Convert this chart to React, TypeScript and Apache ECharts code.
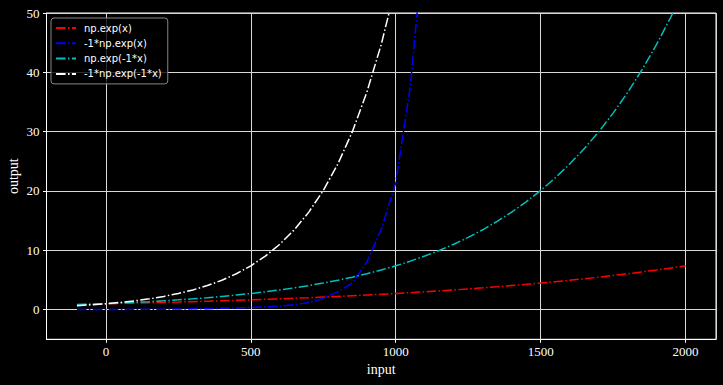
import React, { useEffect, useRef } from "react";
import * as echarts from "echarts";

const xValues = [
  -100, -50, 0, 50, 100, 150, 200, 250, 300, 350, 400, 450, 500, 550, 600, 650, 700, 750, 800, 850, 900,
  950, 1000, 1050, 1100, 1150, 1200, 1250, 1300, 1350, 1400, 1450, 1500, 1550, 1600, 1650, 1700, 1750,
  1800, 1850, 1900, 1950, 2000,
];

const redValues = [
  0.9, 0.95, 1.0, 1.05, 1.1, 1.16, 1.22, 1.28, 1.35, 1.42, 1.49, 1.57, 1.65, 1.73, 1.82, 1.92, 2.01, 2.12,
  2.23, 2.34, 2.46, 2.59, 2.72, 2.86, 3.0, 3.16, 3.32, 3.49, 3.67, 3.86, 4.06, 4.26, 4.48, 4.71, 4.95,
  5.21, 5.47, 5.76, 6.05, 6.36, 6.69, 7.03, 7.39,
];

const blueValues = [
  0.02, 0.02, 0.03, 0.04, 0.05, 0.06, 0.08, 0.1, 0.13, 0.17, 0.22, 0.28, 0.36, 0.46, 0.6, 0.85, 1.2, 1.9,
  3.0, 4.5, 8.0, 13.5, 21.4, 37.5, 64,
];

const cyanValues = [
  0.82, 0.9, 1.0, 1.11, 1.22, 1.35, 1.49, 1.65, 1.82, 2.01, 2.23, 2.46, 2.72, 3.0, 3.32, 3.67, 4.06, 4.48,
  4.95, 5.47, 6.05, 6.69, 7.39, 8.17, 9.03, 9.97, 11.02, 12.18, 13.46, 14.88, 16.44, 18.17, 20.09, 22.2,
  24.53, 27.11, 29.96, 33.12, 36.6, 40.45, 44.7, 49.4, 54.6,
];

const whiteValues = [
  0.67, 0.82, 1.0, 1.22, 1.49, 1.82, 2.23, 2.72, 3.32, 4.06, 4.95, 6.05, 7.39, 9.03, 11.02, 13.46, 16.44,
  20.09, 24.53, 29.96, 36.6, 44.7, 54.6,
];

const seriesNames = ["np.exp(x)", "-1*np.exp(x)", "np.exp(-1*x)", "-1*np.exp(-1*x)"];
const seriesColors = ["#ff0000", "#0000ff", "#00bfbf", "#ffffff"];
const seriesData = [redValues, blueValues, cyanValues, whiteValues];

const SERIF = "'Liberation Serif', 'Times New Roman', 'DejaVu Serif', serif";
const SANS = "'DejaVu Sans', 'Noto Sans', sans-serif";

export default function App() {
  const ref = useRef<HTMLDivElement>(null);

  useEffect(() => {
    if (!ref.current) return;
    const chart = echarts.init(ref.current, undefined, { renderer: "svg" });
    const gridColor = "#d9d9d9";
    const dash = [9.6, 2.4, 1.5, 2.4];
    chart.setOption({
      animation: false,
      backgroundColor: "#000000",
      grid: {
        left: 46.5,
        right: 7,
        top: 13,
        bottom: 45.7,
        containLabel: false,
        outerBoundsMode: "none",
        show: true,
        borderColor: "#ffffff",
        borderWidth: 1,
        backgroundColor: "#000000",
      },
      legend: {
        orient: "vertical",
        left: 51,
        top: 18,
        padding: [5, 6, 5, 4],
        itemWidth: 20,
        itemHeight: 10,
        itemGap: 5.3,
        backgroundColor: "rgba(0,0,0,0.8)",
        borderColor: "#888888",
        borderWidth: 1,
        borderRadius: 3,
        itemStyle: { opacity: 0, borderWidth: 0 },
        textStyle: { color: "#ffffff", fontFamily: SANS, fontSize: 10, padding: [0, 0, 0, 3] },
        data: seriesNames,
      },
      xAxis: {
        type: "value",
        min: -205,
        max: 2105,
        name: "input",
        nameLocation: "middle",
        nameGap: 23,
        nameMoveOverlap: false,
        nameTextStyle: { color: "#ffffff", fontFamily: SERIF, fontSize: 14 },
        axisLine: { show: true, onZero: false, lineStyle: { color: "#ffffff", width: 1 } },
        axisTick: { show: true, length: 3.5, lineStyle: { color: "#ffffff" } },
        axisLabel: {
          color: "#ffffff",
          fontFamily: SERIF,
          fontSize: 13,
          margin: 6,
          showMinLabel: false,
          showMaxLabel: false,
          formatter: (v: number) => String(v),
        },
        splitLine: { show: true, lineStyle: { color: gridColor, width: 1 } },
      },
      yAxis: {
        type: "value",
        min: -5,
        max: 50,
        name: "output",
        nameLocation: "middle",
        nameGap: 26,
        nameMoveOverlap: false,
        nameTextStyle: { color: "#ffffff", fontFamily: SERIF, fontSize: 14 },
        axisLine: { show: true, onZero: false, lineStyle: { color: "#ffffff", width: 1 } },
        axisTick: { show: true, length: 3.5, lineStyle: { color: "#ffffff" } },
        axisLabel: {
          color: "#ffffff",
          fontFamily: SERIF,
          fontSize: 13,
          margin: 7,
          showMinLabel: false,
          formatter: (v: number) => String(v),
        },
        splitLine: { show: true, lineStyle: { color: gridColor, width: 1 } },
      },
      series: seriesNames.map((name, i) => ({
        name,
        type: "line",
        symbol: "none",
        showSymbol: false,
        clip: true,
        color: seriesColors[i],
        lineStyle: { color: seriesColors[i], width: 1.5, type: dash },
        data: seriesData[i].map((v, j) => [xValues[j], v]),
      })),
    });
    return () => chart.dispose();
  }, []);

  return (
    <div
      ref={ref}
      style={{ position: "fixed", left: 0, top: 0, width: 723, height: 385 }}
    />
  );
}
